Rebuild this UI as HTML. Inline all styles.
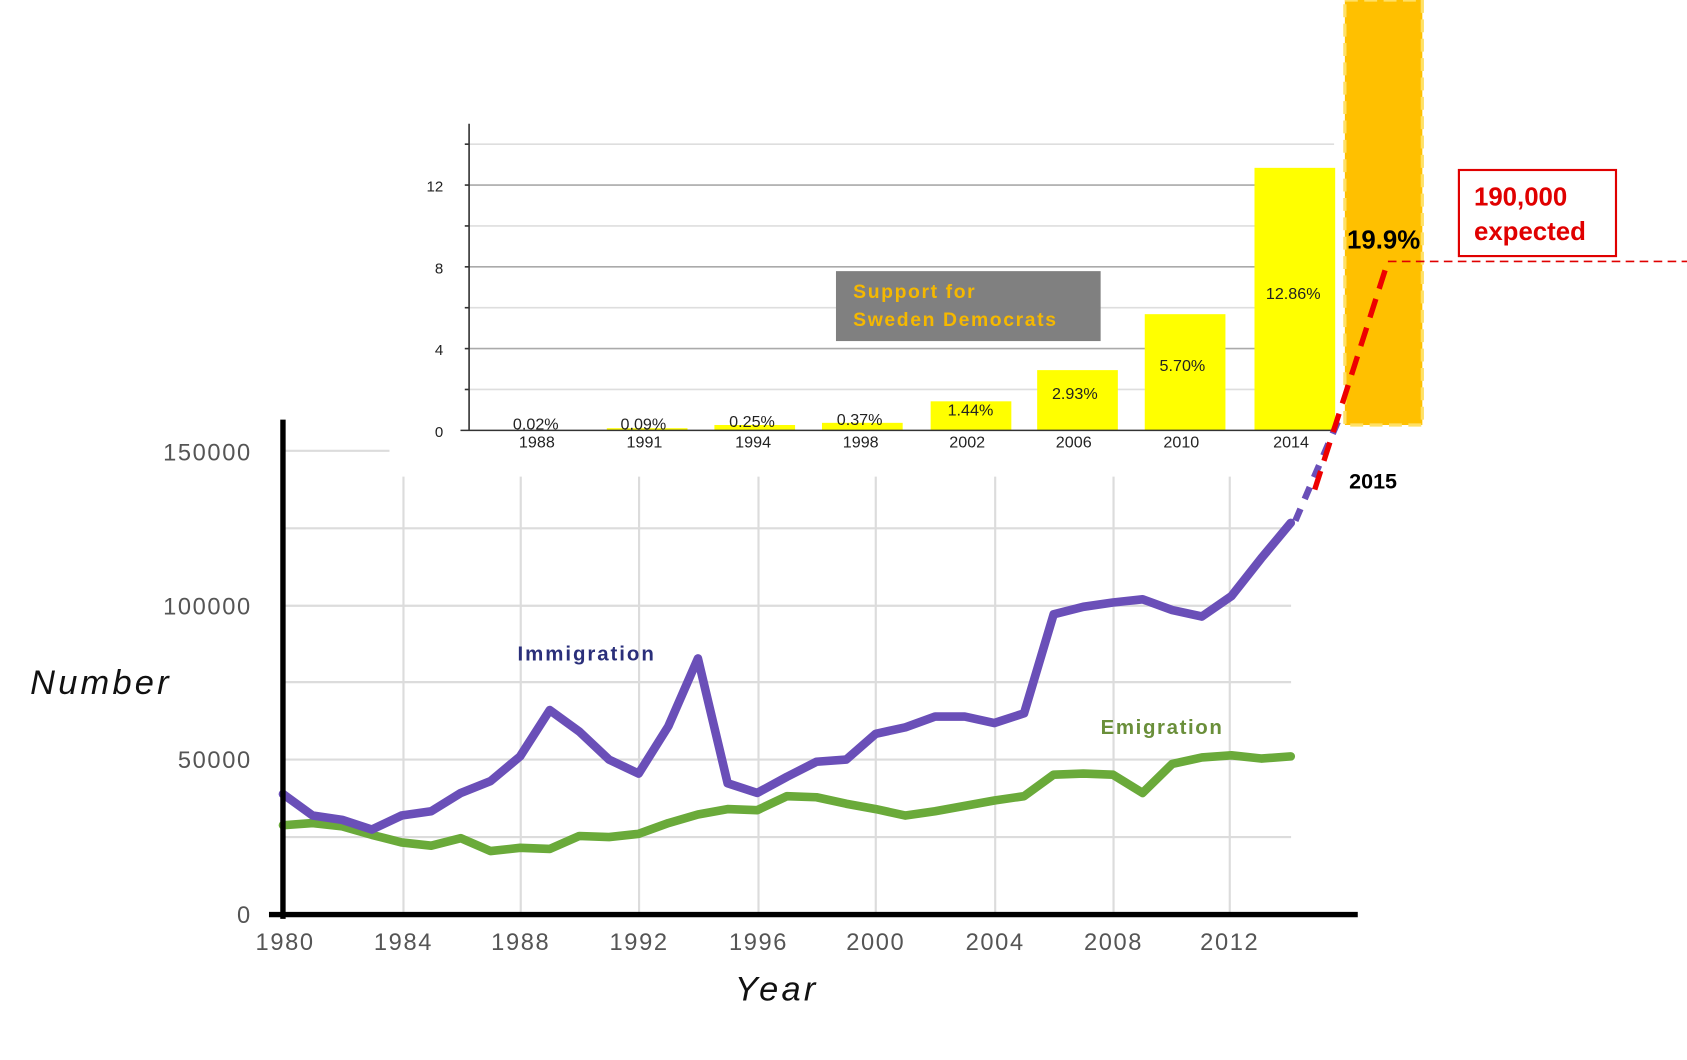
<!DOCTYPE html>
<html><head><style>html,body{margin:0;padding:0;background:#fff;}svg{display:block;}</style></head>
<body>
<svg width="1687" height="1060" viewBox="0 0 1568 985.2" preserveAspectRatio="none" xmlns="http://www.w3.org/2000/svg" font-family="Liberation Sans, sans-serif">
<rect width="1568" height="985.2" fill="#fff"/>
<g stroke="#dcdcdc" stroke-width="2">
<line x1="263" y1="419" x2="362" y2="419"/>
<line x1="263" y1="491" x2="1200" y2="491"/>
<line x1="263" y1="563" x2="1200" y2="563"/>
<line x1="263" y1="634" x2="1200" y2="634"/>
<line x1="263" y1="706" x2="1200" y2="706"/>
<line x1="263" y1="778" x2="1200" y2="778"/>
<line x1="375" y1="443" x2="375" y2="850"/>
<line x1="484" y1="443" x2="484" y2="850"/>
<line x1="594" y1="443" x2="594" y2="850"/>
<line x1="705" y1="443" x2="705" y2="850"/>
<line x1="814" y1="443" x2="814" y2="850"/>
<line x1="925" y1="443" x2="925" y2="850"/>
<line x1="1035" y1="443" x2="1035" y2="850"/>
<line x1="1143" y1="443" x2="1143" y2="850"/>
</g>
<g stroke="#dedede" stroke-width="1.5">
<line x1="436" y1="134" x2="1240" y2="134"/>
<line x1="436" y1="210" x2="1240" y2="210"/>
<line x1="436" y1="286" x2="1240" y2="286"/>
<line x1="436" y1="362" x2="1240" y2="362"/>
</g>
<g stroke="#aaa" stroke-width="1.5">
<line x1="436" y1="172" x2="1240" y2="172"/>
<line x1="436" y1="248" x2="1240" y2="248"/>
<line x1="436" y1="324" x2="1240" y2="324"/>
</g>
<g fill="#ffff00">
<rect x="564" y="398" width="75" height="2"/>
<rect x="664" y="395" width="75" height="5"/>
<rect x="764" y="393" width="75" height="7"/>
<rect x="865" y="373" width="75" height="27"/>
<rect x="964" y="344" width="75" height="56"/>
<rect x="1064" y="292" width="75" height="108"/>
<rect x="1166" y="156" width="75" height="244"/>
</g>
<g stroke="#333" stroke-width="1.5">
<line x1="436" y1="115" x2="436" y2="400"/>
<line x1="428" y1="400" x2="1240" y2="400"/>
<line x1="432" y1="134" x2="436" y2="134"/><line x1="432" y1="172" x2="436" y2="172"/>
<line x1="432" y1="210" x2="436" y2="210"/><line x1="432" y1="248" x2="436" y2="248"/>
<line x1="432" y1="286" x2="436" y2="286"/><line x1="432" y1="324" x2="436" y2="324"/>
<line x1="432" y1="362" x2="436" y2="362"/>
</g>
<g font-size="14" fill="#222" text-anchor="end">
<text x="412" y="178">12</text><text x="412" y="254">8</text><text x="412" y="330">4</text><text x="412" y="406">0</text>
</g>
<g font-size="15" fill="#222" text-anchor="middle">
<text x="499" y="416">1988</text><text x="599" y="416">1991</text><text x="700" y="416">1994</text><text x="800" y="416">1998</text>
<text x="899" y="416">2002</text><text x="998" y="416">2006</text><text x="1098" y="416">2010</text><text x="1200" y="416">2014</text>
</g>
<g font-size="15" fill="#222" text-anchor="middle">
<text x="498" y="399">0.02%</text><text x="598" y="399">0.09%</text><text x="699" y="397">0.25%</text><text x="799" y="395">0.37%</text>
<text x="902" y="386">1.44%</text><text x="999" y="371">2.93%</text><text x="1099" y="345">5.70%</text><text x="1202" y="278">12.86%</text>
</g>
<rect x="777" y="252" width="246" height="65" fill="#808080"/>
<g font-size="18" font-weight="bold" fill="#f5b800" letter-spacing="1.5"><text x="793" y="277">Support for</text><text x="793" y="303">Sweden Democrats</text></g>
<rect x="1250" y="0" width="72" height="395" fill="#ffc000" stroke="#ffe066" stroke-width="3" stroke-dasharray="12,6"/>
<text x="1252" y="231" font-size="24" font-weight="bold" fill="#000">19.9%</text>
<text x="1254" y="454" font-size="20" font-weight="bold" fill="#000">2015</text>
<rect x="1356" y="158" width="146" height="80" fill="none" stroke="#e00000" stroke-width="2"/>
<g font-size="24" font-weight="bold" fill="#e00000"><text x="1370" y="191">190,000</text><text x="1370" y="223">expected</text></g>
<line x1="1290" y1="243" x2="1568" y2="243" stroke="#e00000" stroke-width="1.5" stroke-dasharray="8,5"/>
<polyline fill="none" stroke="#6aaa3a" stroke-width="8" stroke-linejoin="round" stroke-linecap="round" points="263,767 290.6,765 318.1,768 345.7,776 373.2,783 400.8,786 428.3,779 455.9,791 483.4,788 511,789 538.5,777 566.1,778 593.6,775 621.2,765 648.7,757 676.3,752 703.8,753 731.4,740 758.9,741 786.5,747 814,752 841.6,758 869.1,754 896.7,749 924.2,744 951.8,740 979.3,720 1006.9,719 1034.4,720 1062,737 1089.5,710 1117.1,704 1144.6,702 1172.2,705 1199.7,703"/>
<polyline fill="none" stroke="#6a4fb8" stroke-width="8" stroke-linejoin="round" stroke-linecap="round" points="263,738 290.6,758 318.1,762 345.7,771 373.2,758 400.8,754 428.3,737 455.9,726 483.4,703 511,660 538.5,680 566.1,706 593.6,719 621.2,675 648.7,612 676.3,728 703.8,737 731.4,722 758.9,708 786.5,706 814,682 841.6,676 869.1,666 896.7,666 924.2,672 951.8,663 979.3,571 1006.9,564 1034.4,560 1062,557 1089.5,567 1117.1,573 1144.6,554 1172.2,519 1199.7,486"/>
<line x1="1204" y1="484" x2="1246" y2="386" stroke="#6a4fb8" stroke-width="6" stroke-dasharray="12,10"/>
<polyline fill="none" stroke="#ee0000" stroke-width="5" stroke-dasharray="18,10" points="1222,455 1290,243"/>
<line x1="263" y1="390" x2="263" y2="854" stroke="#000" stroke-width="5"/>
<line x1="250" y1="850" x2="1262" y2="850" stroke="#000" stroke-width="5"/>
<g font-size="22" fill="#555" text-anchor="end" letter-spacing="1.5">
<text x="234" y="428">150000</text><text x="234" y="571">100000</text><text x="234" y="714">50000</text><text x="234" y="858">0</text>
</g>
<g font-size="22" fill="#555" text-anchor="middle" letter-spacing="1.5">
<text x="265" y="883">1980</text><text x="375" y="883">1984</text><text x="484" y="883">1988</text><text x="594" y="883">1992</text>
<text x="705" y="883">1996</text><text x="814" y="883">2000</text><text x="925" y="883">2004</text><text x="1035" y="883">2008</text><text x="1143" y="883">2012</text>
</g>
<text x="28" y="645" font-size="32" font-style="italic" fill="#111" letter-spacing="3">Number</text>
<text x="683" y="930" font-size="32" font-style="italic" fill="#111" letter-spacing="3">Year</text>
<text x="481" y="614" font-size="19" font-weight="bold" fill="#2a2f7a" letter-spacing="1.8">Immigration</text>
<text x="1023" y="682" font-size="19" font-weight="bold" fill="#6a8f3a" letter-spacing="1.5">Emigration</text>
</svg>
</body></html>
